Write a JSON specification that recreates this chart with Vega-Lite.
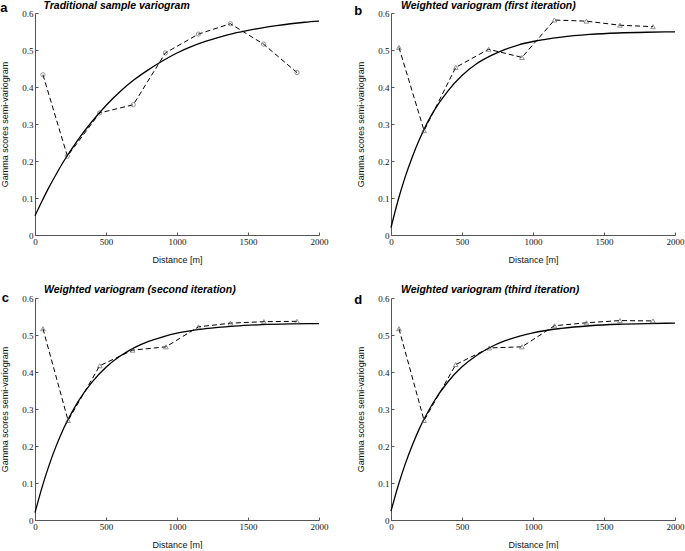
{
  "$schema": "https://vega.github.io/schema/vega-lite/v6.json",
  "padding": {"left": 0, "top": 0, "right": 5, "bottom": 0},
  "background": "white",
  "datasets": {
    "pts": [
      {"panel": "a", "dist": 56, "gamma": 0.433}, {"panel": "a", "dist": 228, "gamma": 0.213}, {"panel": "a", "dist": 456, "gamma": 0.330}, {"panel": "a", "dist": 692, "gamma": 0.352}, {"panel": "a", "dist": 918, "gamma": 0.492}, {"panel": "a", "dist": 1151, "gamma": 0.543}, {"panel": "a", "dist": 1376, "gamma": 0.571}, {"panel": "a", "dist": 1609, "gamma": 0.516}, {"panel": "a", "dist": 1845, "gamma": 0.439},
      {"panel": "b", "dist": 56, "gamma": 0.507}, {"panel": "b", "dist": 233, "gamma": 0.282}, {"panel": "b", "dist": 456, "gamma": 0.453}, {"panel": "b", "dist": 687, "gamma": 0.502}, {"panel": "b", "dist": 922, "gamma": 0.480}, {"panel": "b", "dist": 1151, "gamma": 0.581}, {"panel": "b", "dist": 1376, "gamma": 0.578}, {"panel": "b", "dist": 1612, "gamma": 0.567}, {"panel": "b", "dist": 1845, "gamma": 0.563},
      {"panel": "c", "dist": 56, "gamma": 0.517}, {"panel": "c", "dist": 233, "gamma": 0.269}, {"panel": "c", "dist": 456, "gamma": 0.417}, {"panel": "c", "dist": 687, "gamma": 0.459}, {"panel": "c", "dist": 922, "gamma": 0.468}, {"panel": "c", "dist": 1151, "gamma": 0.522}, {"panel": "c", "dist": 1376, "gamma": 0.532}, {"panel": "c", "dist": 1612, "gamma": 0.536}, {"panel": "c", "dist": 1845, "gamma": 0.537},
      {"panel": "d", "dist": 56, "gamma": 0.517}, {"panel": "d", "dist": 233, "gamma": 0.269}, {"panel": "d", "dist": 456, "gamma": 0.420}, {"panel": "d", "dist": 692, "gamma": 0.465}, {"panel": "d", "dist": 922, "gamma": 0.468}, {"panel": "d", "dist": 1151, "gamma": 0.525}, {"panel": "d", "dist": 1376, "gamma": 0.533}, {"panel": "d", "dist": 1612, "gamma": 0.539}, {"panel": "d", "dist": 1845, "gamma": 0.538}
    ],
    "fit": [
      {"panel": "a", "dist": 0, "gamma": 0.052}, {"panel": "a", "dist": 50, "gamma": 0.092}, {"panel": "a", "dist": 100, "gamma": 0.130}, {"panel": "a", "dist": 150, "gamma": 0.165}, {"panel": "a", "dist": 200, "gamma": 0.198}, {"panel": "a", "dist": 300, "gamma": 0.256}, {"panel": "a", "dist": 400, "gamma": 0.306}, {"panel": "a", "dist": 500, "gamma": 0.350}, {"panel": "a", "dist": 600, "gamma": 0.388}, {"panel": "a", "dist": 700, "gamma": 0.420}, {"panel": "a", "dist": 800, "gamma": 0.447}, {"panel": "a", "dist": 900, "gamma": 0.471}, {"panel": "a", "dist": 1000, "gamma": 0.492}, {"panel": "a", "dist": 1100, "gamma": 0.509}, {"panel": "a", "dist": 1200, "gamma": 0.523}, {"panel": "a", "dist": 1300, "gamma": 0.535}, {"panel": "a", "dist": 1400, "gamma": 0.545}, {"panel": "a", "dist": 1500, "gamma": 0.553}, {"panel": "a", "dist": 1600, "gamma": 0.560}, {"panel": "a", "dist": 1700, "gamma": 0.566}, {"panel": "a", "dist": 1800, "gamma": 0.571}, {"panel": "a", "dist": 1900, "gamma": 0.575}, {"panel": "a", "dist": 2000, "gamma": 0.578},
      {"panel": "b", "dist": 0, "gamma": 0.020}, {"panel": "b", "dist": 50, "gamma": 0.094}, {"panel": "b", "dist": 100, "gamma": 0.157}, {"panel": "b", "dist": 150, "gamma": 0.211}, {"panel": "b", "dist": 200, "gamma": 0.258}, {"panel": "b", "dist": 250, "gamma": 0.299}, {"panel": "b", "dist": 300, "gamma": 0.334}, {"panel": "b", "dist": 400, "gamma": 0.389}, {"panel": "b", "dist": 500, "gamma": 0.431}, {"panel": "b", "dist": 600, "gamma": 0.462}, {"panel": "b", "dist": 700, "gamma": 0.484}, {"panel": "b", "dist": 800, "gamma": 0.501}, {"panel": "b", "dist": 900, "gamma": 0.514}, {"panel": "b", "dist": 1000, "gamma": 0.523}, {"panel": "b", "dist": 1200, "gamma": 0.535}, {"panel": "b", "dist": 1400, "gamma": 0.542}, {"panel": "b", "dist": 1600, "gamma": 0.546}, {"panel": "b", "dist": 1800, "gamma": 0.548}, {"panel": "b", "dist": 2000, "gamma": 0.549},
      {"panel": "c", "dist": 0, "gamma": 0.020}, {"panel": "c", "dist": 50, "gamma": 0.089}, {"panel": "c", "dist": 100, "gamma": 0.149}, {"panel": "c", "dist": 150, "gamma": 0.201}, {"panel": "c", "dist": 200, "gamma": 0.246}, {"panel": "c", "dist": 250, "gamma": 0.284}, {"panel": "c", "dist": 300, "gamma": 0.318}, {"panel": "c", "dist": 400, "gamma": 0.372}, {"panel": "c", "dist": 500, "gamma": 0.413}, {"panel": "c", "dist": 600, "gamma": 0.443}, {"panel": "c", "dist": 700, "gamma": 0.466}, {"panel": "c", "dist": 800, "gamma": 0.483}, {"panel": "c", "dist": 900, "gamma": 0.495}, {"panel": "c", "dist": 1000, "gamma": 0.505}, {"panel": "c", "dist": 1200, "gamma": 0.517}, {"panel": "c", "dist": 1400, "gamma": 0.524}, {"panel": "c", "dist": 1600, "gamma": 0.528}, {"panel": "c", "dist": 1800, "gamma": 0.530}, {"panel": "c", "dist": 2000, "gamma": 0.531},
      {"panel": "d", "dist": 0, "gamma": 0.024}, {"panel": "d", "dist": 50, "gamma": 0.092}, {"panel": "d", "dist": 100, "gamma": 0.151}, {"panel": "d", "dist": 150, "gamma": 0.202}, {"panel": "d", "dist": 200, "gamma": 0.247}, {"panel": "d", "dist": 250, "gamma": 0.285}, {"panel": "d", "dist": 300, "gamma": 0.319}, {"panel": "d", "dist": 400, "gamma": 0.373}, {"panel": "d", "dist": 500, "gamma": 0.414}, {"panel": "d", "dist": 600, "gamma": 0.444}, {"panel": "d", "dist": 700, "gamma": 0.467}, {"panel": "d", "dist": 800, "gamma": 0.484}, {"panel": "d", "dist": 900, "gamma": 0.496}, {"panel": "d", "dist": 1000, "gamma": 0.506}, {"panel": "d", "dist": 1200, "gamma": 0.518}, {"panel": "d", "dist": 1400, "gamma": 0.525}, {"panel": "d", "dist": 1600, "gamma": 0.529}, {"panel": "d", "dist": 1800, "gamma": 0.531}, {"panel": "d", "dist": 2000, "gamma": 0.532}
    ]
  },
  "columns": 2,
  "bounds": "flush",
  "spacing": {"row": 63, "column": 72},
  "concat": [
    {
      "width": 284, "height": 222,
      "layer": [
        {"data": {"name": "fit"}, "transform": [{"filter": "datum.panel == 'a'"}], "mark": {"type": "line", "color": "#000", "strokeWidth": 1.3, "interpolate": "monotone"},
         "encoding": {"x": {"field": "dist", "type": "quantitative", "scale": {"domain": [0, 2000]}, "axis": {"values": [0, 500, 1000, 1500, 2000], "format": "d", "labelOverlap": false}, "title": "Distance [m]"}, "y": {"field": "gamma", "type": "quantitative", "scale": {"domain": [0, 0.6]}, "axis": {"values": [0, 0.1, 0.2, 0.3, 0.4, 0.5, 0.6], "tickCount": 7, "labelOverlap": false, "labelExpr": "datum.value == 0 ? '0' : format(datum.value, '.1f')"}, "title": "Gamma scores semi-variogram"}}},
        {"data": {"name": "pts"}, "transform": [{"filter": "datum.panel == 'a'"}], "mark": {"type": "line", "color": "#000", "strokeWidth": 1, "strokeDash": [5, 3]},
         "encoding": {"x": {"field": "dist", "type": "quantitative"}, "y": {"field": "gamma", "type": "quantitative"}}},
        {"data": {"name": "pts"}, "transform": [{"filter": "datum.panel == 'a'"}], "mark": {"type": "point", "shape": "circle", "filled": false, "color": "#555", "size": 18, "strokeWidth": 0.9},
         "encoding": {"x": {"field": "dist", "type": "quantitative"}, "y": {"field": "gamma", "type": "quantitative"}}},
        {"data": {"values": [{"lab": "a"}]}, "mark": {"type": "text", "font": "Liberation Sans", "fontSize": 13, "fontWeight": "bold", "align": "left", "baseline": "alphabetic", "color": "#000"},
         "encoding": {"x": {"datum": -245}, "y": {"datum": 0.603}, "text": {"field": "lab"}}},
        {"data": {"values": [{"lab": "Traditional sample variogram"}]}, "mark": {"type": "text", "font": "Liberation Sans", "fontSize": 10.5, "fontWeight": "bold", "fontStyle": "italic", "align": "left", "baseline": "alphabetic", "color": "#000"},
         "encoding": {"x": {"datum": 60}, "y": {"datum": 0.611}, "text": {"field": "lab"}}}
      ]
    },
    {
      "width": 284, "height": 222,
      "layer": [
        {"data": {"name": "fit"}, "transform": [{"filter": "datum.panel == 'b'"}], "mark": {"type": "line", "color": "#000", "strokeWidth": 1.3, "interpolate": "monotone"},
         "encoding": {"x": {"field": "dist", "type": "quantitative", "scale": {"domain": [0, 2000]}, "axis": {"values": [0, 500, 1000, 1500, 2000], "format": "d", "labelOverlap": false}, "title": "Distance [m]"}, "y": {"field": "gamma", "type": "quantitative", "scale": {"domain": [0, 0.6]}, "axis": {"values": [0, 0.1, 0.2, 0.3, 0.4, 0.5, 0.6], "tickCount": 7, "labelOverlap": false, "labelExpr": "datum.value == 0 ? '0' : format(datum.value, '.1f')"}, "title": "Gamma scores semi-variogram"}}},
        {"data": {"name": "pts"}, "transform": [{"filter": "datum.panel == 'b'"}], "mark": {"type": "line", "color": "#000", "strokeWidth": 1, "strokeDash": [5, 3]},
         "encoding": {"x": {"field": "dist", "type": "quantitative"}, "y": {"field": "gamma", "type": "quantitative"}}},
        {"data": {"name": "pts"}, "transform": [{"filter": "datum.panel == 'b'"}], "mark": {"type": "point", "shape": "triangle-up", "filled": false, "color": "#555", "size": 22, "strokeWidth": 0.9},
         "encoding": {"x": {"field": "dist", "type": "quantitative"}, "y": {"field": "gamma", "type": "quantitative"}}},
        {"data": {"values": [{"lab": "b"}]}, "mark": {"type": "text", "font": "Liberation Sans", "fontSize": 13, "fontWeight": "bold", "align": "left", "baseline": "alphabetic", "color": "#000"},
         "encoding": {"x": {"datum": -258}, "y": {"datum": 0.595}, "text": {"field": "lab"}}},
        {"data": {"values": [{"lab": "Weighted variogram (first iteration)"}]}, "mark": {"type": "text", "font": "Liberation Sans", "fontSize": 10.5, "fontWeight": "bold", "fontStyle": "italic", "align": "left", "baseline": "alphabetic", "color": "#000"},
         "encoding": {"x": {"datum": 70}, "y": {"datum": 0.611}, "text": {"field": "lab"}}}
      ]
    },
    {
      "width": 284, "height": 222,
      "layer": [
        {"data": {"name": "fit"}, "transform": [{"filter": "datum.panel == 'c'"}], "mark": {"type": "line", "color": "#000", "strokeWidth": 1.3, "interpolate": "monotone"},
         "encoding": {"x": {"field": "dist", "type": "quantitative", "scale": {"domain": [0, 2000]}, "axis": {"values": [0, 500, 1000, 1500, 2000], "format": "d", "labelOverlap": false}, "title": "Distance [m]"}, "y": {"field": "gamma", "type": "quantitative", "scale": {"domain": [0, 0.6]}, "axis": {"values": [0, 0.1, 0.2, 0.3, 0.4, 0.5, 0.6], "tickCount": 7, "labelOverlap": false, "labelExpr": "datum.value == 0 ? '0' : format(datum.value, '.1f')"}, "title": "Gamma scores semi-variogram"}}},
        {"data": {"name": "pts"}, "transform": [{"filter": "datum.panel == 'c'"}], "mark": {"type": "line", "color": "#000", "strokeWidth": 1, "strokeDash": [5, 3]},
         "encoding": {"x": {"field": "dist", "type": "quantitative"}, "y": {"field": "gamma", "type": "quantitative"}}},
        {"data": {"name": "pts"}, "transform": [{"filter": "datum.panel == 'c'"}], "mark": {"type": "point", "shape": "triangle-up", "filled": false, "color": "#555", "size": 22, "strokeWidth": 0.9},
         "encoding": {"x": {"field": "dist", "type": "quantitative"}, "y": {"field": "gamma", "type": "quantitative"}}},
        {"data": {"values": [{"lab": "c"}]}, "mark": {"type": "text", "font": "Liberation Sans", "fontSize": 13, "fontWeight": "bold", "align": "left", "baseline": "alphabetic", "color": "#000"},
         "encoding": {"x": {"datum": -235}, "y": {"datum": 0.590}, "text": {"field": "lab"}}},
        {"data": {"values": [{"lab": "Weighted variogram (second iteration)"}]}, "mark": {"type": "text", "font": "Liberation Sans", "fontSize": 10.5, "fontWeight": "bold", "fontStyle": "italic", "align": "left", "baseline": "alphabetic", "color": "#000"},
         "encoding": {"x": {"datum": 63}, "y": {"datum": 0.614}, "text": {"field": "lab"}}}
      ]
    },
    {
      "width": 284, "height": 222,
      "layer": [
        {"data": {"name": "fit"}, "transform": [{"filter": "datum.panel == 'd'"}], "mark": {"type": "line", "color": "#000", "strokeWidth": 1.3, "interpolate": "monotone"},
         "encoding": {"x": {"field": "dist", "type": "quantitative", "scale": {"domain": [0, 2000]}, "axis": {"values": [0, 500, 1000, 1500, 2000], "format": "d", "labelOverlap": false}, "title": "Distance [m]"}, "y": {"field": "gamma", "type": "quantitative", "scale": {"domain": [0, 0.6]}, "axis": {"values": [0, 0.1, 0.2, 0.3, 0.4, 0.5, 0.6], "tickCount": 7, "labelOverlap": false, "labelExpr": "datum.value == 0 ? '0' : format(datum.value, '.1f')"}, "title": "Gamma scores semi-variogram"}}},
        {"data": {"name": "pts"}, "transform": [{"filter": "datum.panel == 'd'"}], "mark": {"type": "line", "color": "#000", "strokeWidth": 1, "strokeDash": [5, 3]},
         "encoding": {"x": {"field": "dist", "type": "quantitative"}, "y": {"field": "gamma", "type": "quantitative"}}},
        {"data": {"name": "pts"}, "transform": [{"filter": "datum.panel == 'd'"}], "mark": {"type": "point", "shape": "triangle-up", "filled": false, "color": "#555", "size": 22, "strokeWidth": 0.9},
         "encoding": {"x": {"field": "dist", "type": "quantitative"}, "y": {"field": "gamma", "type": "quantitative"}}},
        {"data": {"values": [{"lab": "d"}]}, "mark": {"type": "text", "font": "Liberation Sans", "fontSize": 13, "fontWeight": "bold", "align": "left", "baseline": "alphabetic", "color": "#000"},
         "encoding": {"x": {"datum": -258}, "y": {"datum": 0.585}, "text": {"field": "lab"}}},
        {"data": {"values": [{"lab": "Weighted variogram (third iteration)"}]}, "mark": {"type": "text", "font": "Liberation Sans", "fontSize": 10.5, "fontWeight": "bold", "fontStyle": "italic", "align": "left", "baseline": "alphabetic", "color": "#000"},
         "encoding": {"x": {"datum": 70}, "y": {"datum": 0.614}, "text": {"field": "lab"}}}
      ]
    }
  ],
  "config": {
    "view": {"stroke": null},
    "axis": {
      "grid": false,
      "domainColor": "#555",
      "tickColor": "#555",
      "tickSize": -3,
      "labelPadding": 5,
      "labelOverlap": false,
      "labelFont": "Liberation Serif",
      "labelFontSize": 9,
      "labelColor": "#111",
      "titleFont": "Liberation Sans",
      "titleFontSize": 9,
      "titleFontWeight": "normal",
      "titleColor": "#111"
    },
    "axisX": {"titlePadding": 9, "labelFlush": false},
    "axisY": {"titlePadding": 12}
  }
}
